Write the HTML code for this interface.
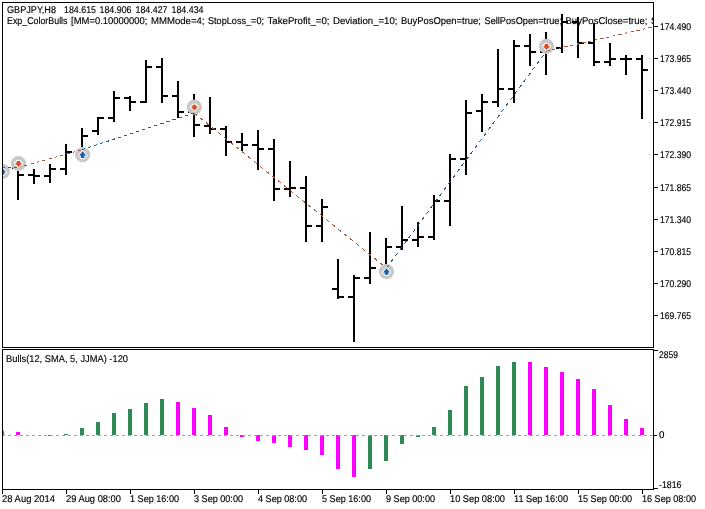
<!DOCTYPE html><html><head><meta charset="utf-8"><style>html,body{margin:0;padding:0;background:#fff;width:705px;height:509px;overflow:hidden}svg{display:block}</style></head><body>
<svg width="705" height="509" viewBox="0 0 705 509" style="will-change:transform">
<defs><clipPath id="cm"><rect x="3" y="3" width="650" height="344"/></clipPath><clipPath id="ci"><rect x="3" y="350" width="650" height="139"/></clipPath></defs>
<rect x="0" y="0" width="705" height="509" fill="#fff"/>
<g clip-path="url(#cm)">
<text x="7" y="13" font-size="9.8" font-family="Liberation Sans, sans-serif" text-rendering="geometricPrecision" stroke="#000" stroke-width="0.15" fill="#000" textLength="49" lengthAdjust="spacingAndGlyphs">GBPJPY,H8</text>
<text x="64" y="13" font-size="9.8" font-family="Liberation Sans, sans-serif" text-rendering="geometricPrecision" stroke="#000" stroke-width="0.15" fill="#000" textLength="32" lengthAdjust="spacingAndGlyphs">184.615</text>
<text x="99.5" y="13" font-size="9.8" font-family="Liberation Sans, sans-serif" text-rendering="geometricPrecision" stroke="#000" stroke-width="0.15" fill="#000" textLength="32" lengthAdjust="spacingAndGlyphs">184.906</text>
<text x="135.5" y="13" font-size="9.8" font-family="Liberation Sans, sans-serif" text-rendering="geometricPrecision" stroke="#000" stroke-width="0.15" fill="#000" textLength="32" lengthAdjust="spacingAndGlyphs">184.427</text>
<text x="171.5" y="13" font-size="9.8" font-family="Liberation Sans, sans-serif" text-rendering="geometricPrecision" stroke="#000" stroke-width="0.15" fill="#000" textLength="32" lengthAdjust="spacingAndGlyphs">184.434</text>
<text x="7" y="24" font-size="9.8" font-family="Liberation Sans, sans-serif" text-rendering="geometricPrecision" stroke="#000" stroke-width="0.15" fill="#000" textLength="60.5" lengthAdjust="spacingAndGlyphs">Exp_ColorBulls</text>
<text x="71" y="24" font-size="9.8" font-family="Liberation Sans, sans-serif" text-rendering="geometricPrecision" stroke="#000" stroke-width="0.15" fill="#000" textLength="76.5" lengthAdjust="spacingAndGlyphs">[MM=0.10000000;</text>
<text x="151" y="24" font-size="9.8" font-family="Liberation Sans, sans-serif" text-rendering="geometricPrecision" stroke="#000" stroke-width="0.15" fill="#000" textLength="53.5" lengthAdjust="spacingAndGlyphs">MMMode=4;</text>
<text x="208" y="24" font-size="9.8" font-family="Liberation Sans, sans-serif" text-rendering="geometricPrecision" stroke="#000" stroke-width="0.15" fill="#000" textLength="56.0" lengthAdjust="spacingAndGlyphs">StopLoss_=0;</text>
<text x="267.5" y="24" font-size="9.8" font-family="Liberation Sans, sans-serif" text-rendering="geometricPrecision" stroke="#000" stroke-width="0.15" fill="#000" textLength="62.0" lengthAdjust="spacingAndGlyphs">TakeProfit_=0;</text>
<text x="333" y="24" font-size="9.8" font-family="Liberation Sans, sans-serif" text-rendering="geometricPrecision" stroke="#000" stroke-width="0.15" fill="#000" textLength="64.5" lengthAdjust="spacingAndGlyphs">Deviation_=10;</text>
<text x="401" y="24" font-size="9.8" font-family="Liberation Sans, sans-serif" text-rendering="geometricPrecision" stroke="#000" stroke-width="0.15" fill="#000" textLength="80.0" lengthAdjust="spacingAndGlyphs">BuyPosOpen=true;</text>
<text x="484.5" y="24" font-size="9.8" font-family="Liberation Sans, sans-serif" text-rendering="geometricPrecision" stroke="#000" stroke-width="0.15" fill="#000" textLength="77.5" lengthAdjust="spacingAndGlyphs">SellPosOpen=true;</text>
<text x="565.5" y="24" font-size="9.8" font-family="Liberation Sans, sans-serif" text-rendering="geometricPrecision" stroke="#000" stroke-width="0.15" fill="#000" textLength="82.0" lengthAdjust="spacingAndGlyphs">BuyPosClose=true;</text>
<text x="651" y="24" font-size="9.8" font-family="Liberation Sans, sans-serif" text-rendering="geometricPrecision" stroke="#000" stroke-width="0.15" fill="#000">S</text>
<g fill="#000" shape-rendering="crispEdges">
<rect x="1" y="160" width="2" height="31"/>
<rect x="17" y="171" width="2" height="29"/>
<rect x="12" y="167" width="5" height="2"/>
<rect x="19" y="174" width="5" height="2"/>
<rect x="33" y="169" width="2" height="15"/>
<rect x="28" y="174" width="5" height="2"/>
<rect x="35" y="175" width="5" height="2"/>
<rect x="49" y="164" width="2" height="19"/>
<rect x="44" y="175" width="5" height="2"/>
<rect x="51" y="168" width="5" height="2"/>
<rect x="65" y="144" width="2" height="31"/>
<rect x="60" y="168" width="5" height="2"/>
<rect x="67" y="151" width="5" height="2"/>
<rect x="81" y="128" width="2" height="19"/>
<rect x="76" y="151" width="5" height="2"/>
<rect x="83" y="135" width="5" height="2"/>
<rect x="97" y="117" width="2" height="18"/>
<rect x="92" y="130" width="5" height="2"/>
<rect x="99" y="117" width="5" height="2"/>
<rect x="113" y="91" width="2" height="31"/>
<rect x="108" y="117" width="5" height="2"/>
<rect x="115" y="97" width="5" height="2"/>
<rect x="129" y="96" width="2" height="15"/>
<rect x="124" y="97" width="5" height="2"/>
<rect x="131" y="101" width="5" height="2"/>
<rect x="145" y="60" width="2" height="43"/>
<rect x="140" y="101" width="5" height="2"/>
<rect x="147" y="66" width="5" height="2"/>
<rect x="161" y="58" width="2" height="45"/>
<rect x="156" y="66" width="5" height="2"/>
<rect x="163" y="95" width="5" height="2"/>
<rect x="177" y="81" width="2" height="37"/>
<rect x="172" y="95" width="5" height="2"/>
<rect x="179" y="111" width="5" height="2"/>
<rect x="193" y="94" width="2" height="43"/>
<rect x="188" y="111" width="5" height="2"/>
<rect x="195" y="124" width="5" height="2"/>
<rect x="209" y="97" width="2" height="37"/>
<rect x="204" y="125" width="5" height="2"/>
<rect x="211" y="128" width="5" height="2"/>
<rect x="225" y="126" width="2" height="30"/>
<rect x="220" y="128" width="5" height="2"/>
<rect x="227" y="141" width="5" height="2"/>
<rect x="241" y="133" width="2" height="18"/>
<rect x="236" y="141" width="5" height="2"/>
<rect x="243" y="144" width="5" height="2"/>
<rect x="257" y="130" width="2" height="40"/>
<rect x="252" y="144" width="5" height="2"/>
<rect x="259" y="148" width="5" height="2"/>
<rect x="273" y="139" width="2" height="62"/>
<rect x="268" y="148" width="5" height="2"/>
<rect x="275" y="188" width="5" height="2"/>
<rect x="289" y="161" width="2" height="36"/>
<rect x="284" y="188" width="5" height="2"/>
<rect x="291" y="187" width="5" height="2"/>
<rect x="305" y="176" width="2" height="66"/>
<rect x="300" y="187" width="5" height="2"/>
<rect x="307" y="225" width="5" height="2"/>
<rect x="321" y="199" width="2" height="43"/>
<rect x="316" y="225" width="5" height="2"/>
<rect x="323" y="206" width="5" height="2"/>
<rect x="337" y="259" width="2" height="40"/>
<rect x="332" y="288" width="5" height="2"/>
<rect x="339" y="296" width="5" height="2"/>
<rect x="353" y="275" width="2" height="67"/>
<rect x="348" y="296" width="5" height="2"/>
<rect x="355" y="277" width="5" height="2"/>
<rect x="369" y="232" width="2" height="52"/>
<rect x="364" y="277" width="5" height="2"/>
<rect x="371" y="267" width="5" height="2"/>
<rect x="385" y="238" width="2" height="29"/>
<rect x="380" y="268" width="5" height="2"/>
<rect x="387" y="246" width="5" height="2"/>
<rect x="401" y="206" width="2" height="44"/>
<rect x="396" y="246" width="5" height="2"/>
<rect x="403" y="239" width="5" height="2"/>
<rect x="417" y="222" width="2" height="25"/>
<rect x="412" y="239" width="5" height="2"/>
<rect x="419" y="236" width="5" height="2"/>
<rect x="433" y="195" width="2" height="45"/>
<rect x="428" y="236" width="5" height="2"/>
<rect x="435" y="200" width="5" height="2"/>
<rect x="449" y="154" width="2" height="72"/>
<rect x="444" y="200" width="5" height="2"/>
<rect x="451" y="158" width="5" height="2"/>
<rect x="465" y="100" width="2" height="75"/>
<rect x="460" y="158" width="5" height="2"/>
<rect x="467" y="112" width="5" height="2"/>
<rect x="481" y="94" width="2" height="38"/>
<rect x="476" y="110" width="5" height="2"/>
<rect x="483" y="101" width="5" height="2"/>
<rect x="497" y="49" width="2" height="58"/>
<rect x="492" y="101" width="5" height="2"/>
<rect x="499" y="88" width="5" height="2"/>
<rect x="513" y="40" width="2" height="63"/>
<rect x="508" y="88" width="5" height="2"/>
<rect x="515" y="45" width="5" height="2"/>
<rect x="529" y="34" width="2" height="32"/>
<rect x="524" y="45" width="5" height="2"/>
<rect x="531" y="51" width="5" height="2"/>
<rect x="545" y="32" width="2" height="43"/>
<rect x="540" y="51" width="5" height="2"/>
<rect x="547" y="47" width="5" height="2"/>
<rect x="561" y="14" width="2" height="39"/>
<rect x="556" y="47" width="5" height="2"/>
<rect x="563" y="21" width="5" height="2"/>
<rect x="577" y="17" width="2" height="41"/>
<rect x="572" y="21" width="5" height="2"/>
<rect x="579" y="42" width="5" height="2"/>
<rect x="593" y="23" width="2" height="43"/>
<rect x="588" y="42" width="5" height="2"/>
<rect x="595" y="61" width="5" height="2"/>
<rect x="609" y="43" width="2" height="23"/>
<rect x="604" y="61" width="5" height="2"/>
<rect x="611" y="58" width="5" height="2"/>
<rect x="625" y="55" width="2" height="20"/>
<rect x="620" y="58" width="5" height="2"/>
<rect x="627" y="58" width="5" height="2"/>
<rect x="641" y="55" width="2" height="64"/>
<rect x="636" y="58" width="5" height="2"/>
<rect x="643" y="69" width="5" height="2"/>
</g>
<circle cx="2.5" cy="171.5" r="7.6" fill="#c8c8c8"/>
<circle cx="18.5" cy="163.5" r="7.6" fill="#c8c8c8"/>
<circle cx="82.6" cy="154.6" r="7.6" fill="#c8c8c8"/>
<circle cx="194.4" cy="107.1" r="7.6" fill="#c8c8c8"/>
<circle cx="386.5" cy="271.5" r="7.6" fill="#c8c8c8"/>
<circle cx="546.5" cy="46.4" r="7.6" fill="#c8c8c8"/>
<line x1="2.5" y1="167.0" x2="18.5" y2="167.5" stroke="#2a5d8c" stroke-width="1" stroke-dasharray="3.001 3.001" shape-rendering="crispEdges"/>
<line x1="18.5" y1="167.5" x2="82.5" y2="149.5" stroke="#a8583a" stroke-width="1" stroke-dasharray="3.116 3.116" shape-rendering="crispEdges"/>
<line x1="82.5" y1="149.5" x2="194.0" y2="113.0" stroke="#2a5d8c" stroke-width="1" stroke-dasharray="3.157 3.157" shape-rendering="crispEdges"/>
<line x1="194.0" y1="113.0" x2="386.5" y2="268.0" stroke="#a8583a" stroke-width="1" stroke-dasharray="3.852 3.852" shape-rendering="crispEdges"/>
<line x1="386.5" y1="268.0" x2="546.5" y2="51.0" stroke="#2a5d8c" stroke-width="1" stroke-dasharray="3.727 3.727" shape-rendering="crispEdges"/>
<line x1="546.5" y1="51.0" x2="653" y2="27" stroke="#a8583a" stroke-width="1" stroke-dasharray="3.075 3.075" shape-rendering="crispEdges"/>
<path d="M2.5 168.2 L6.1 172.5 L4.3 172.5 L4.3 174.8 L0.7 174.8 L0.7 172.5 L-1.1 172.5 Z" fill="#1560b0" stroke="#fff" stroke-width="2" stroke-linejoin="round" paint-order="stroke"/>
<path d="M18.5 167.1 L22.1 163.0 L20.3 163.0 L20.3 161.1 L16.7 161.1 L16.7 163.0 L14.9 163.0 Z" fill="#e2491f" stroke="#fff" stroke-width="2" stroke-linejoin="round" paint-order="stroke"/>
<path d="M82.6 151.29999999999998 L86.19999999999999 155.6 L84.39999999999999 155.6 L84.39999999999999 157.9 L80.8 157.9 L80.8 155.6 L79.0 155.6 Z" fill="#1560b0" stroke="#fff" stroke-width="2" stroke-linejoin="round" paint-order="stroke"/>
<path d="M194.4 110.69999999999999 L198.0 106.6 L196.20000000000002 106.6 L196.20000000000002 104.69999999999999 L192.6 104.69999999999999 L192.6 106.6 L190.8 106.6 Z" fill="#e2491f" stroke="#fff" stroke-width="2" stroke-linejoin="round" paint-order="stroke"/>
<path d="M386.5 268.2 L390.1 272.5 L388.3 272.5 L388.3 274.8 L384.7 274.8 L384.7 272.5 L382.9 272.5 Z" fill="#1560b0" stroke="#fff" stroke-width="2" stroke-linejoin="round" paint-order="stroke"/>
<path d="M546.5 50.0 L550.1 45.9 L548.3 45.9 L548.3 44.0 L544.7 44.0 L544.7 45.9 L542.9 45.9 Z" fill="#e2491f" stroke="#fff" stroke-width="2" stroke-linejoin="round" paint-order="stroke"/>
</g>
<g clip-path="url(#ci)">
<text x="6" y="362" font-size="9.8" font-family="Liberation Sans, sans-serif" text-rendering="geometricPrecision" stroke="#000" stroke-width="0.15" fill="#000" textLength="122" lengthAdjust="spacingAndGlyphs">Bulls(12, SMA, 5, JJMA) -120</text>
<g shape-rendering="crispEdges">
<rect x="0" y="431" width="4" height="4" fill="#ff00ff"/>
<rect x="16" y="432" width="4" height="3" fill="#ff00ff"/>
<rect x="48" y="435" width="4" height="1" fill="#ff00ff"/>
<rect x="64" y="434" width="4" height="1" fill="#2e8b57"/>
<rect x="80" y="428" width="4" height="7" fill="#2e8b57"/>
<rect x="96" y="422" width="4" height="13" fill="#2e8b57"/>
<rect x="112" y="413" width="4" height="22" fill="#2e8b57"/>
<rect x="128" y="409" width="4" height="26" fill="#2e8b57"/>
<rect x="144" y="403" width="4" height="32" fill="#2e8b57"/>
<rect x="160" y="399" width="4" height="36" fill="#2e8b57"/>
<rect x="176" y="402" width="4" height="33" fill="#ff00ff"/>
<rect x="192" y="408" width="4" height="27" fill="#ff00ff"/>
<rect x="208" y="415" width="4" height="20" fill="#ff00ff"/>
<rect x="224" y="427" width="4" height="8" fill="#ff00ff"/>
<rect x="240" y="435" width="4" height="2" fill="#ff00ff"/>
<rect x="256" y="435" width="4" height="6" fill="#ff00ff"/>
<rect x="272" y="435" width="4" height="8" fill="#ff00ff"/>
<rect x="288" y="435" width="4" height="12" fill="#ff00ff"/>
<rect x="304" y="435" width="4" height="15" fill="#ff00ff"/>
<rect x="320" y="435" width="4" height="20" fill="#ff00ff"/>
<rect x="336" y="435" width="4" height="34" fill="#ff00ff"/>
<rect x="352" y="435" width="4" height="42" fill="#ff00ff"/>
<rect x="368" y="435" width="4" height="34" fill="#2e8b57"/>
<rect x="384" y="435" width="4" height="26" fill="#2e8b57"/>
<rect x="400" y="435" width="4" height="9" fill="#2e8b57"/>
<rect x="416" y="435" width="4" height="2" fill="#2e8b57"/>
<rect x="432" y="427" width="4" height="8" fill="#2e8b57"/>
<rect x="448" y="410" width="4" height="25" fill="#2e8b57"/>
<rect x="464" y="386" width="4" height="49" fill="#2e8b57"/>
<rect x="480" y="377" width="4" height="58" fill="#2e8b57"/>
<rect x="496" y="366" width="4" height="69" fill="#2e8b57"/>
<rect x="512" y="362" width="4" height="73" fill="#2e8b57"/>
<rect x="528" y="362" width="4" height="73" fill="#ff00ff"/>
<rect x="544" y="367" width="4" height="68" fill="#ff00ff"/>
<rect x="560" y="372" width="4" height="63" fill="#ff00ff"/>
<rect x="576" y="379" width="4" height="56" fill="#ff00ff"/>
<rect x="592" y="389" width="4" height="46" fill="#ff00ff"/>
<rect x="608" y="405" width="4" height="30" fill="#ff00ff"/>
<rect x="624" y="419" width="4" height="16" fill="#ff00ff"/>
<rect x="640" y="428" width="4" height="7" fill="#ff00ff"/>
<rect x="2" y="435" width="3" height="1" fill="#a0a0a0"/>
<rect x="8" y="435" width="3" height="1" fill="#a0a0a0"/>
<rect x="14" y="435" width="3" height="1" fill="#a0a0a0"/>
<rect x="20" y="435" width="3" height="1" fill="#a0a0a0"/>
<rect x="26" y="435" width="3" height="1" fill="#a0a0a0"/>
<rect x="32" y="435" width="3" height="1" fill="#a0a0a0"/>
<rect x="38" y="435" width="3" height="1" fill="#a0a0a0"/>
<rect x="44" y="435" width="3" height="1" fill="#a0a0a0"/>
<rect x="50" y="435" width="3" height="1" fill="#a0a0a0"/>
<rect x="56" y="435" width="3" height="1" fill="#a0a0a0"/>
<rect x="62" y="435" width="3" height="1" fill="#a0a0a0"/>
<rect x="68" y="435" width="3" height="1" fill="#a0a0a0"/>
<rect x="74" y="435" width="3" height="1" fill="#a0a0a0"/>
<rect x="80" y="435" width="3" height="1" fill="#a0a0a0"/>
<rect x="86" y="435" width="3" height="1" fill="#a0a0a0"/>
<rect x="92" y="435" width="3" height="1" fill="#a0a0a0"/>
<rect x="98" y="435" width="3" height="1" fill="#a0a0a0"/>
<rect x="104" y="435" width="3" height="1" fill="#a0a0a0"/>
<rect x="110" y="435" width="3" height="1" fill="#a0a0a0"/>
<rect x="116" y="435" width="3" height="1" fill="#a0a0a0"/>
<rect x="122" y="435" width="3" height="1" fill="#a0a0a0"/>
<rect x="128" y="435" width="3" height="1" fill="#a0a0a0"/>
<rect x="134" y="435" width="3" height="1" fill="#a0a0a0"/>
<rect x="140" y="435" width="3" height="1" fill="#a0a0a0"/>
<rect x="146" y="435" width="3" height="1" fill="#a0a0a0"/>
<rect x="152" y="435" width="3" height="1" fill="#a0a0a0"/>
<rect x="158" y="435" width="3" height="1" fill="#a0a0a0"/>
<rect x="164" y="435" width="3" height="1" fill="#a0a0a0"/>
<rect x="170" y="435" width="3" height="1" fill="#a0a0a0"/>
<rect x="176" y="435" width="3" height="1" fill="#a0a0a0"/>
<rect x="182" y="435" width="3" height="1" fill="#a0a0a0"/>
<rect x="188" y="435" width="3" height="1" fill="#a0a0a0"/>
<rect x="194" y="435" width="3" height="1" fill="#a0a0a0"/>
<rect x="200" y="435" width="3" height="1" fill="#a0a0a0"/>
<rect x="206" y="435" width="3" height="1" fill="#a0a0a0"/>
<rect x="212" y="435" width="3" height="1" fill="#a0a0a0"/>
<rect x="218" y="435" width="3" height="1" fill="#a0a0a0"/>
<rect x="224" y="435" width="3" height="1" fill="#a0a0a0"/>
<rect x="230" y="435" width="3" height="1" fill="#a0a0a0"/>
<rect x="236" y="435" width="3" height="1" fill="#a0a0a0"/>
<rect x="242" y="435" width="3" height="1" fill="#a0a0a0"/>
<rect x="248" y="435" width="3" height="1" fill="#a0a0a0"/>
<rect x="254" y="435" width="3" height="1" fill="#a0a0a0"/>
<rect x="260" y="435" width="3" height="1" fill="#a0a0a0"/>
<rect x="266" y="435" width="3" height="1" fill="#a0a0a0"/>
<rect x="272" y="435" width="3" height="1" fill="#a0a0a0"/>
<rect x="278" y="435" width="3" height="1" fill="#a0a0a0"/>
<rect x="284" y="435" width="3" height="1" fill="#a0a0a0"/>
<rect x="290" y="435" width="3" height="1" fill="#a0a0a0"/>
<rect x="296" y="435" width="3" height="1" fill="#a0a0a0"/>
<rect x="302" y="435" width="3" height="1" fill="#a0a0a0"/>
<rect x="308" y="435" width="3" height="1" fill="#a0a0a0"/>
<rect x="314" y="435" width="3" height="1" fill="#a0a0a0"/>
<rect x="320" y="435" width="3" height="1" fill="#a0a0a0"/>
<rect x="326" y="435" width="3" height="1" fill="#a0a0a0"/>
<rect x="332" y="435" width="3" height="1" fill="#a0a0a0"/>
<rect x="338" y="435" width="3" height="1" fill="#a0a0a0"/>
<rect x="344" y="435" width="3" height="1" fill="#a0a0a0"/>
<rect x="350" y="435" width="3" height="1" fill="#a0a0a0"/>
<rect x="356" y="435" width="3" height="1" fill="#a0a0a0"/>
<rect x="362" y="435" width="3" height="1" fill="#a0a0a0"/>
<rect x="368" y="435" width="3" height="1" fill="#a0a0a0"/>
<rect x="374" y="435" width="3" height="1" fill="#a0a0a0"/>
<rect x="380" y="435" width="3" height="1" fill="#a0a0a0"/>
<rect x="386" y="435" width="3" height="1" fill="#a0a0a0"/>
<rect x="392" y="435" width="3" height="1" fill="#a0a0a0"/>
<rect x="398" y="435" width="3" height="1" fill="#a0a0a0"/>
<rect x="404" y="435" width="3" height="1" fill="#a0a0a0"/>
<rect x="410" y="435" width="3" height="1" fill="#a0a0a0"/>
<rect x="416" y="435" width="3" height="1" fill="#a0a0a0"/>
<rect x="422" y="435" width="3" height="1" fill="#a0a0a0"/>
<rect x="428" y="435" width="3" height="1" fill="#a0a0a0"/>
<rect x="434" y="435" width="3" height="1" fill="#a0a0a0"/>
<rect x="440" y="435" width="3" height="1" fill="#a0a0a0"/>
<rect x="446" y="435" width="3" height="1" fill="#a0a0a0"/>
<rect x="452" y="435" width="3" height="1" fill="#a0a0a0"/>
<rect x="458" y="435" width="3" height="1" fill="#a0a0a0"/>
<rect x="464" y="435" width="3" height="1" fill="#a0a0a0"/>
<rect x="470" y="435" width="3" height="1" fill="#a0a0a0"/>
<rect x="476" y="435" width="3" height="1" fill="#a0a0a0"/>
<rect x="482" y="435" width="3" height="1" fill="#a0a0a0"/>
<rect x="488" y="435" width="3" height="1" fill="#a0a0a0"/>
<rect x="494" y="435" width="3" height="1" fill="#a0a0a0"/>
<rect x="500" y="435" width="3" height="1" fill="#a0a0a0"/>
<rect x="506" y="435" width="3" height="1" fill="#a0a0a0"/>
<rect x="512" y="435" width="3" height="1" fill="#a0a0a0"/>
<rect x="518" y="435" width="3" height="1" fill="#a0a0a0"/>
<rect x="524" y="435" width="3" height="1" fill="#a0a0a0"/>
<rect x="530" y="435" width="3" height="1" fill="#a0a0a0"/>
<rect x="536" y="435" width="3" height="1" fill="#a0a0a0"/>
<rect x="542" y="435" width="3" height="1" fill="#a0a0a0"/>
<rect x="548" y="435" width="3" height="1" fill="#a0a0a0"/>
<rect x="554" y="435" width="3" height="1" fill="#a0a0a0"/>
<rect x="560" y="435" width="3" height="1" fill="#a0a0a0"/>
<rect x="566" y="435" width="3" height="1" fill="#a0a0a0"/>
<rect x="572" y="435" width="3" height="1" fill="#a0a0a0"/>
<rect x="578" y="435" width="3" height="1" fill="#a0a0a0"/>
<rect x="584" y="435" width="3" height="1" fill="#a0a0a0"/>
<rect x="590" y="435" width="3" height="1" fill="#a0a0a0"/>
<rect x="596" y="435" width="3" height="1" fill="#a0a0a0"/>
<rect x="602" y="435" width="3" height="1" fill="#a0a0a0"/>
<rect x="608" y="435" width="3" height="1" fill="#a0a0a0"/>
<rect x="614" y="435" width="3" height="1" fill="#a0a0a0"/>
<rect x="620" y="435" width="3" height="1" fill="#a0a0a0"/>
<rect x="626" y="435" width="3" height="1" fill="#a0a0a0"/>
<rect x="632" y="435" width="3" height="1" fill="#a0a0a0"/>
<rect x="638" y="435" width="3" height="1" fill="#a0a0a0"/>
<rect x="644" y="435" width="3" height="1" fill="#a0a0a0"/>
<rect x="650" y="435" width="3" height="1" fill="#a0a0a0"/>
</g></g>
<g fill="#000" shape-rendering="crispEdges">
<rect x="2" y="2" width="652" height="1"/><rect x="2" y="347" width="652" height="1"/><rect x="2" y="2" width="1" height="346"/><rect x="653" y="2" width="1" height="346"/>
<rect x="2" y="349" width="652" height="1"/><rect x="2" y="489" width="652" height="1"/><rect x="2" y="349" width="1" height="141"/><rect x="653" y="349" width="1" height="141"/>
<rect x="654" y="26" width="4" height="1"/>
<rect x="654" y="58" width="4" height="1"/>
<rect x="654" y="90" width="4" height="1"/>
<rect x="654" y="122" width="4" height="1"/>
<rect x="654" y="154" width="4" height="1"/>
<rect x="654" y="187" width="4" height="1"/>
<rect x="654" y="219" width="4" height="1"/>
<rect x="654" y="251" width="4" height="1"/>
<rect x="654" y="283" width="4" height="1"/>
<rect x="654" y="315" width="4" height="1"/>
</g>
<text x="660" y="30" font-size="9.8" font-family="Liberation Sans, sans-serif" text-rendering="geometricPrecision" stroke="#000" stroke-width="0.15" fill="#000" textLength="31" lengthAdjust="spacingAndGlyphs">174.490</text>
<text x="660" y="62" font-size="9.8" font-family="Liberation Sans, sans-serif" text-rendering="geometricPrecision" stroke="#000" stroke-width="0.15" fill="#000" textLength="31" lengthAdjust="spacingAndGlyphs">173.965</text>
<text x="660" y="94" font-size="9.8" font-family="Liberation Sans, sans-serif" text-rendering="geometricPrecision" stroke="#000" stroke-width="0.15" fill="#000" textLength="31" lengthAdjust="spacingAndGlyphs">173.440</text>
<text x="660" y="126" font-size="9.8" font-family="Liberation Sans, sans-serif" text-rendering="geometricPrecision" stroke="#000" stroke-width="0.15" fill="#000" textLength="31" lengthAdjust="spacingAndGlyphs">172.915</text>
<text x="660" y="158" font-size="9.8" font-family="Liberation Sans, sans-serif" text-rendering="geometricPrecision" stroke="#000" stroke-width="0.15" fill="#000" textLength="31" lengthAdjust="spacingAndGlyphs">172.390</text>
<text x="660" y="191" font-size="9.8" font-family="Liberation Sans, sans-serif" text-rendering="geometricPrecision" stroke="#000" stroke-width="0.15" fill="#000" textLength="31" lengthAdjust="spacingAndGlyphs">171.865</text>
<text x="660" y="223" font-size="9.8" font-family="Liberation Sans, sans-serif" text-rendering="geometricPrecision" stroke="#000" stroke-width="0.15" fill="#000" textLength="31" lengthAdjust="spacingAndGlyphs">171.340</text>
<text x="660" y="255" font-size="9.8" font-family="Liberation Sans, sans-serif" text-rendering="geometricPrecision" stroke="#000" stroke-width="0.15" fill="#000" textLength="31" lengthAdjust="spacingAndGlyphs">170.815</text>
<text x="660" y="287" font-size="9.8" font-family="Liberation Sans, sans-serif" text-rendering="geometricPrecision" stroke="#000" stroke-width="0.15" fill="#000" textLength="31" lengthAdjust="spacingAndGlyphs">170.290</text>
<text x="660" y="319" font-size="9.8" font-family="Liberation Sans, sans-serif" text-rendering="geometricPrecision" stroke="#000" stroke-width="0.15" fill="#000" textLength="31" lengthAdjust="spacingAndGlyphs">169.765</text>
<g fill="#000" shape-rendering="crispEdges"><rect x="654" y="350" width="4" height="1"/><rect x="654" y="435" width="3" height="1"/><rect x="654" y="488" width="4" height="1"/></g>
<text x="659" y="358" font-size="9.8" font-family="Liberation Sans, sans-serif" text-rendering="geometricPrecision" stroke="#000" stroke-width="0.15" fill="#000" textLength="19" lengthAdjust="spacingAndGlyphs">2859</text>
<text x="659" y="438" font-size="9.8" font-family="Liberation Sans, sans-serif" text-rendering="geometricPrecision" stroke="#000" stroke-width="0.15" fill="#000">0</text>
<text x="659" y="488" font-size="9.8" font-family="Liberation Sans, sans-serif" text-rendering="geometricPrecision" stroke="#000" stroke-width="0.15" fill="#000" textLength="22.5" lengthAdjust="spacingAndGlyphs">-1816</text>
<g fill="#000" shape-rendering="crispEdges">
<rect x="2" y="490" width="1" height="4"/>
<rect x="66" y="490" width="1" height="4"/>
<rect x="130" y="490" width="1" height="4"/>
<rect x="194" y="490" width="1" height="4"/>
<rect x="258" y="490" width="1" height="4"/>
<rect x="322" y="490" width="1" height="4"/>
<rect x="386" y="490" width="1" height="4"/>
<rect x="450" y="490" width="1" height="4"/>
<rect x="514" y="490" width="1" height="4"/>
<rect x="578" y="490" width="1" height="4"/>
<rect x="642" y="490" width="1" height="4"/>
</g>
<text x="2" y="502" font-size="9.8" font-family="Liberation Sans, sans-serif" text-rendering="geometricPrecision" stroke="#000" stroke-width="0.15" fill="#000" textLength="53" lengthAdjust="spacingAndGlyphs">28 Aug 2014</text>
<text x="66" y="502" font-size="9.8" font-family="Liberation Sans, sans-serif" text-rendering="geometricPrecision" stroke="#000" stroke-width="0.15" fill="#000" textLength="55" lengthAdjust="spacingAndGlyphs">29 Aug 08:00</text>
<text x="130" y="502" font-size="9.8" font-family="Liberation Sans, sans-serif" text-rendering="geometricPrecision" stroke="#000" stroke-width="0.15" fill="#000" textLength="49" lengthAdjust="spacingAndGlyphs">1 Sep 16:00</text>
<text x="194" y="502" font-size="9.8" font-family="Liberation Sans, sans-serif" text-rendering="geometricPrecision" stroke="#000" stroke-width="0.15" fill="#000" textLength="49" lengthAdjust="spacingAndGlyphs">3 Sep 00:00</text>
<text x="258" y="502" font-size="9.8" font-family="Liberation Sans, sans-serif" text-rendering="geometricPrecision" stroke="#000" stroke-width="0.15" fill="#000" textLength="49" lengthAdjust="spacingAndGlyphs">4 Sep 08:00</text>
<text x="322" y="502" font-size="9.8" font-family="Liberation Sans, sans-serif" text-rendering="geometricPrecision" stroke="#000" stroke-width="0.15" fill="#000" textLength="49" lengthAdjust="spacingAndGlyphs">5 Sep 16:00</text>
<text x="386" y="502" font-size="9.8" font-family="Liberation Sans, sans-serif" text-rendering="geometricPrecision" stroke="#000" stroke-width="0.15" fill="#000" textLength="49" lengthAdjust="spacingAndGlyphs">9 Sep 00:00</text>
<text x="450" y="502" font-size="9.8" font-family="Liberation Sans, sans-serif" text-rendering="geometricPrecision" stroke="#000" stroke-width="0.15" fill="#000" textLength="55" lengthAdjust="spacingAndGlyphs">10 Sep 08:00</text>
<text x="514" y="502" font-size="9.8" font-family="Liberation Sans, sans-serif" text-rendering="geometricPrecision" stroke="#000" stroke-width="0.15" fill="#000" textLength="54" lengthAdjust="spacingAndGlyphs">11 Sep 16:00</text>
<text x="578" y="502" font-size="9.8" font-family="Liberation Sans, sans-serif" text-rendering="geometricPrecision" stroke="#000" stroke-width="0.15" fill="#000" textLength="54" lengthAdjust="spacingAndGlyphs">15 Sep 00:00</text>
<text x="642" y="502" font-size="9.8" font-family="Liberation Sans, sans-serif" text-rendering="geometricPrecision" stroke="#000" stroke-width="0.15" fill="#000" textLength="54" lengthAdjust="spacingAndGlyphs">16 Sep 08:00</text>
</svg></body></html>
